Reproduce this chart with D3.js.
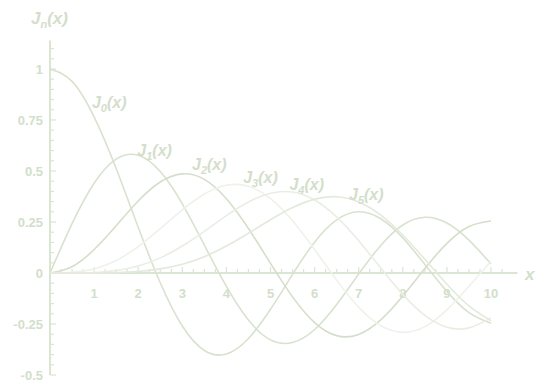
<!DOCTYPE html>
<html>
<head>
<meta charset="utf-8">
<script src="https://cdn.jsdelivr.net/npm/d3@7"></script>
<style>
  body { margin: 0; background: #fff; }
  svg text { font-family: Arial, "Liberation Sans", sans-serif; font-weight: bold; }
</style>
</head>
<body>
<svg id="chart" width="536" height="381"></svg>
<script>
// sample points, step 0.5 from 0 to 10
var xs = [0, 0.5, 1, 1.5, 2, 2.5, 3, 3.5, 4, 4.5, 5, 5.5, 6, 6.5, 7, 7.5, 8, 8.5, 9, 9.5, 10];
var j0 = [1, 0.939, 0.765, 0.512, 0.224, -0.048, -0.260, -0.380, -0.397, -0.321, -0.178, -0.007, 0.151, 0.260, 0.300, 0.266, 0.172, 0.042, -0.090, -0.194, -0.246];
var j1 = [0, 0.242, 0.440, 0.558, 0.577, 0.497, 0.339, 0.137, -0.066, -0.231, -0.328, -0.341, -0.277, -0.154, -0.005, 0.135, 0.235, 0.273, 0.245, 0.161, 0.044];
var j2 = [0, 0.031, 0.115, 0.232, 0.353, 0.446, 0.486, 0.459, 0.364, 0.218, 0.047, -0.117, -0.243, -0.307, -0.301, -0.230, -0.113, 0.022, 0.145, 0.228, 0.255];
var j3 = [0, 0.003, 0.020, 0.061, 0.129, 0.217, 0.309, 0.387, 0.430, 0.425, 0.365, 0.256, 0.115, -0.035, -0.168, -0.258, -0.291, -0.263, -0.181, -0.065, 0.058];
var j4 = [0, 0.000, 0.002, 0.012, 0.034, 0.074, 0.132, 0.204, 0.281, 0.348, 0.391, 0.397, 0.358, 0.275, 0.158, 0.024, -0.105, -0.208, -0.266, -0.269, -0.220];
var j5 = [0, 0.000, 0.000, 0.002, 0.007, 0.020, 0.043, 0.080, 0.132, 0.195, 0.261, 0.321, 0.362, 0.374, 0.348, 0.284, 0.186, 0.067, -0.055, -0.161, -0.234];

var seriesNames = ["0", "1", "2", "3", "4", "5"];
var seriesValues = [j0, j1, j2, j3, j4, j5];
// where each label sits (x, y in data units)
var labelX = [0.95, 1.98, 3.22, 4.38, 5.43, 6.78];
var labelY = [0.81, 0.575, 0.505, 0.44, 0.405, 0.36];

var xTicks = [1, 2, 3, 4, 5, 6, 7, 8, 9, 10];
var yTicks = [-0.5, -0.25, 0, 0.25, 0.5, 0.75, 1];

var lineColors = ["#d8e2cf", "#d8e2cf", "#d3dfca", "#eef2ea", "#e9eee4", "#e3eadd"];
var axisColor = "#dbe5d3";
var textColor = "#d3decb";

var svg = d3.select("#chart");

var x = d3.scaleLinear().domain([0, 10]).range([50, 491]);
var y = d3.scaleLinear().domain([-0.5, 1.14]).range([375, 40.4]);

// minor ticks
var xMinor = d3.range(0.25, 10.5, 0.25);
var yMinor = d3.range(-0.5, 1.13, 0.05);

var g = svg.append("g");

g.selectAll(".xminor")
  .data(xMinor)
  .enter().append("line")
    .attr("x1", function(d) { return x(d); })
    .attr("x2", function(d) { return x(d); })
    .attr("y1", function(d) { return Math.abs(d - Math.round(d)) < 1e-6 ? y(0) - 6 : y(0) - 4; })
    .attr("y2", y(0))
    .style("stroke", axisColor)
    .style("stroke-width", 1.2);

g.selectAll(".yminor")
  .data(yMinor)
  .enter().append("line")
    .attr("x1", x(0))
    .attr("x2", function(d) { return Math.abs(d / 0.25 - Math.round(d / 0.25)) < 1e-6 ? x(0) + 6 : x(0) + 4; })
    .attr("y1", function(d) { return y(d); })
    .attr("y2", function(d) { return y(d); })
    .style("stroke", axisColor)
    .style("stroke-width", 1.2);

// axis lines
g.append("line")
  .attr("x1", x(0)).attr("x2", x(10.6))
  .attr("y1", y(0)).attr("y2", y(0))
  .style("stroke", axisColor).style("stroke-width", 2);

g.append("line")
  .attr("x1", x(0)).attr("x2", x(0))
  .attr("y1", y(1.14)).attr("y2", y(-0.5))
  .style("stroke", axisColor).style("stroke-width", 2);

// tick labels
g.selectAll(".xlab")
  .data(xTicks)
  .enter().append("text")
    .attr("x", function(d) { return x(d); })
    .attr("y", y(0) + 25)
    .attr("text-anchor", "middle")
    .style("font-size", "13px")
    .style("fill", textColor)
    .text(function(d) { return d; });

g.selectAll(".ylab")
  .data(yTicks)
  .enter().append("text")
    .attr("x", x(0) - 7)
    .attr("y", function(d) { return y(d) + 5; })
    .attr("text-anchor", "end")
    .style("font-size", "13px")
    .style("fill", textColor)
    .text(function(d) { return d; });

// axis titles
g.append("text")
  .attr("x", 525).attr("y", y(0) + 7)
  .style("font-size", "17px").style("font-style", "italic")
  .style("fill", textColor)
  .text("x");

var ylab = g.append("text")
  .attr("x", 31).attr("y", 24)
  .style("font-size", "17px").style("font-style", "italic")
  .style("fill", textColor);
ylab.append("tspan").text("J");
ylab.append("tspan").attr("dy", 4).style("font-size", "11px").text("n");
ylab.append("tspan").attr("dy", -4).text("(x)");

// curves
var line = d3.line()
  .x(function(d) { return x(d[0]); })
  .y(function(d) { return y(d[1]); })
  .curve(d3.curveNatural);

seriesValues.forEach(function(vals, i) {
  var pts = xs.map(function(v, k) { return [v, vals[k]]; });
  svg.append("path")
    .datum(pts)
    .attr("d", line)
    .style("fill", "none")
    .style("stroke", lineColors[i])
    .style("stroke-width", 1.6);
});

// curve labels
seriesNames.forEach(function(n, i) {
  var t = svg.append("text")
    .attr("x", x(labelX[i]))
    .attr("y", y(labelY[i]))
    .style("font-size", "16px").style("font-style", "italic")
    .style("fill", textColor);
  t.append("tspan").text("J");
  t.append("tspan").attr("dy", 4).style("font-size", "11px").text(n);
  t.append("tspan").attr("dy", -4).text("(x)");
});
</script>
</body>
</html>
